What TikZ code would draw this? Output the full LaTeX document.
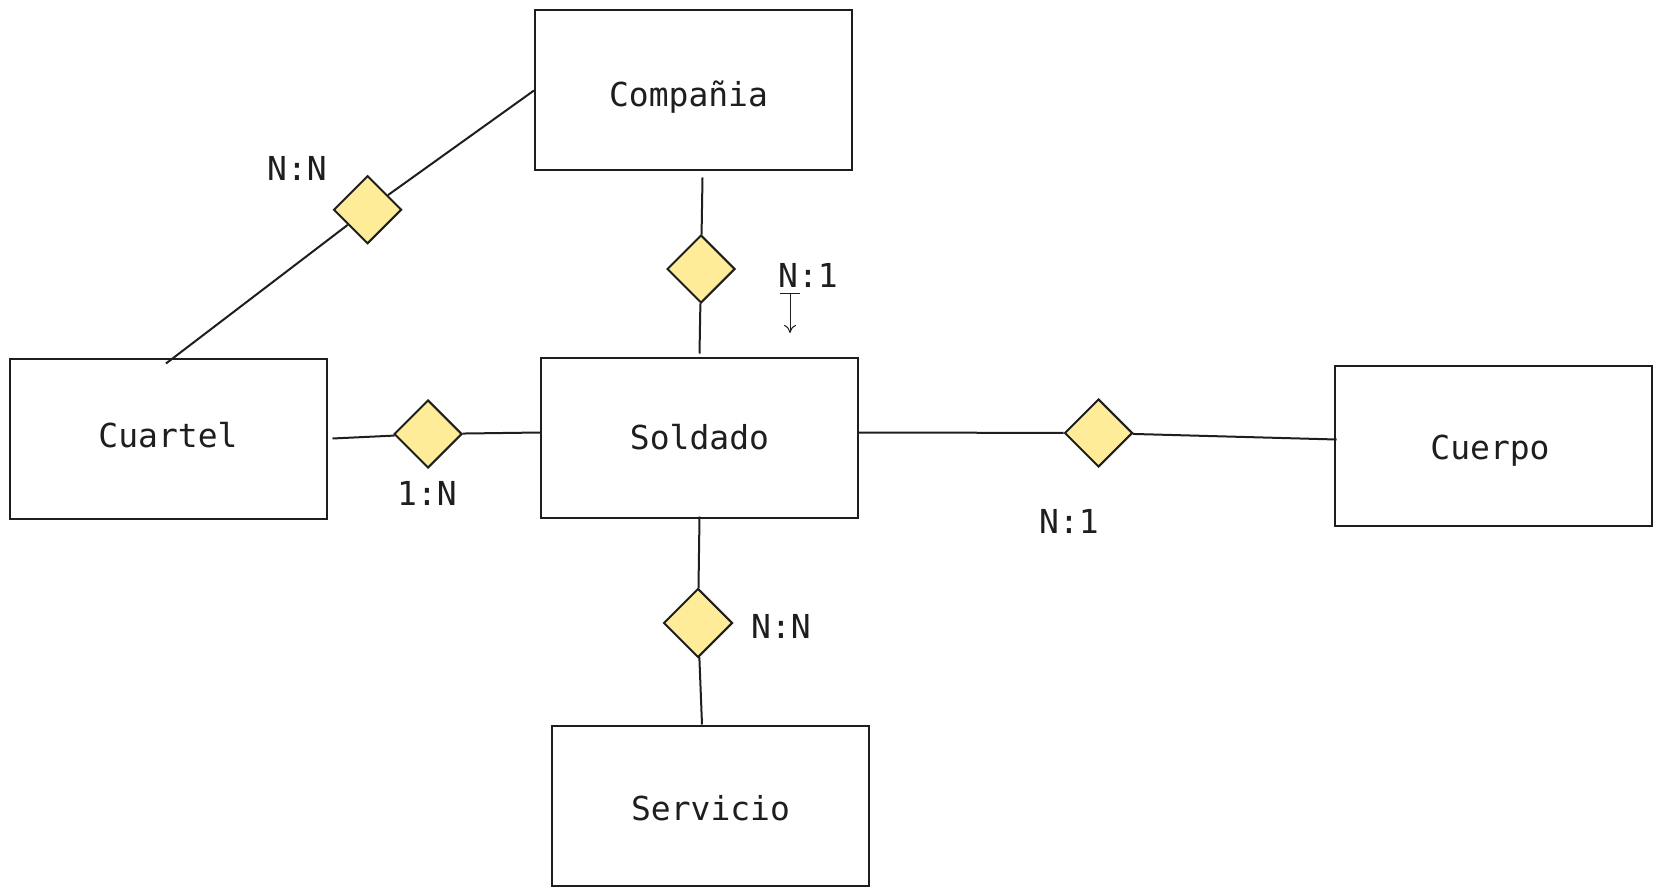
\documentclass[tikz,border=0pt]{standalone}
\usepackage{fontspec}
\setmonofont{DejaVu Sans Mono}
\usetikzlibrary{shapes.geometric, arrows.meta}
\definecolor{ink}{HTML}{1E1E1E}
\definecolor{relfill}{HTML}{FFEC99}
\begin{document}
\begin{tikzpicture}[x=1pt, y=-1pt, line width=2pt, draw=ink,
    font=\ttfamily\fontsize{33}{38}\selectfont,
    entity/.style={draw=ink, rectangle, minimum width=317pt, minimum height=160pt, inner sep=0pt},
    rel/.style={draw=ink, fill=relfill, diamond, aspect=1, minimum size=68pt, inner sep=0pt},
    card/.style={text=ink, inner sep=0pt}]
    \useasboundingbox (0,0) rectangle (1661,896);
    \pgfmathsetmacro{\gap}{6};
    % entidades
    \node[entity] (compania) at (693.5,90.5) {};
    \node[entity] (cuartel) at (168,438.5) {};
    \node[entity] (soldado) at (699.5,437.5) {};
    \node[entity] (cuerpo) at (1493,445.5) {};
    \node[entity] (servicio) at (710.5,805.5) {};
    \node[card] (txtCompania) at ([xshift=-5pt, yshift=-7pt]compania.center) {Compañia};
    \node[card] (txtCuartel) at ([yshift=3pt]cuartel.center) {Cuartel};
    \node[card] (txtSoldado) at (soldado.center) {Soldado};
    \node[card] (txtCuerpo) at ([xshift=-3pt, yshift=-5pt]cuerpo.center) {Cuerpo};
    \node[card] (txtServicio) at ([yshift=-3pt]servicio.center) {Servicio};
    % relaciones
    \node[rel] (relCC) at (367.6,209.7) {};
    \node[rel] (relCS) at (701,269) {};
    \node[rel] (relQS) at (428,434) {};
    \node[rel] (relSC) at (1098.5,433) {};
    \node[rel, minimum size=69pt] (relSS) at (698,623) {};
    % cardinalidades
    \node[card] (cardCC) at (297,168) {N:N};
    \node[card] (cardCS) at (808,275) {N:1};
    \node[card] (cardQS) at (427,493) {1:N};
    \node[card] (cardSC) at (1069,521) {N:1};
    \node[card] (cardSS) at (781,626) {N:N};
    \coordinate (mark) at (790,293);
    \coordinate (markend) at (790,333);
    % conexiones
    \draw (compania.west) -- (relCC) -- ([xshift=-2pt, yshift=-\gap pt]cuartel.north);
    \draw ([xshift=9pt, yshift=-\gap pt]compania.south) -- (relCS) -- ([yshift=3pt]soldado.north);
    \draw ([xshift=5pt]cuartel.east) -- (relQS) -- ([yshift=5pt]soldado.west);
    \draw ([yshift=5pt]soldado.east) -- (relSC) -- ([xshift=3pt, yshift=6pt]cuerpo.west);
    \draw ([yshift=2pt]soldado.south) -- (relSS) -- ([xshift=-8.5pt]servicio.north);
    % flecha suelta
    \draw[line width=1pt] ([xshift=-10pt]mark) -- ([xshift=10pt]mark);
    \draw[line width=1pt, -{To[length=8pt, width=12pt]}] (mark) -- (markend);
\end{tikzpicture}
\end{document}
